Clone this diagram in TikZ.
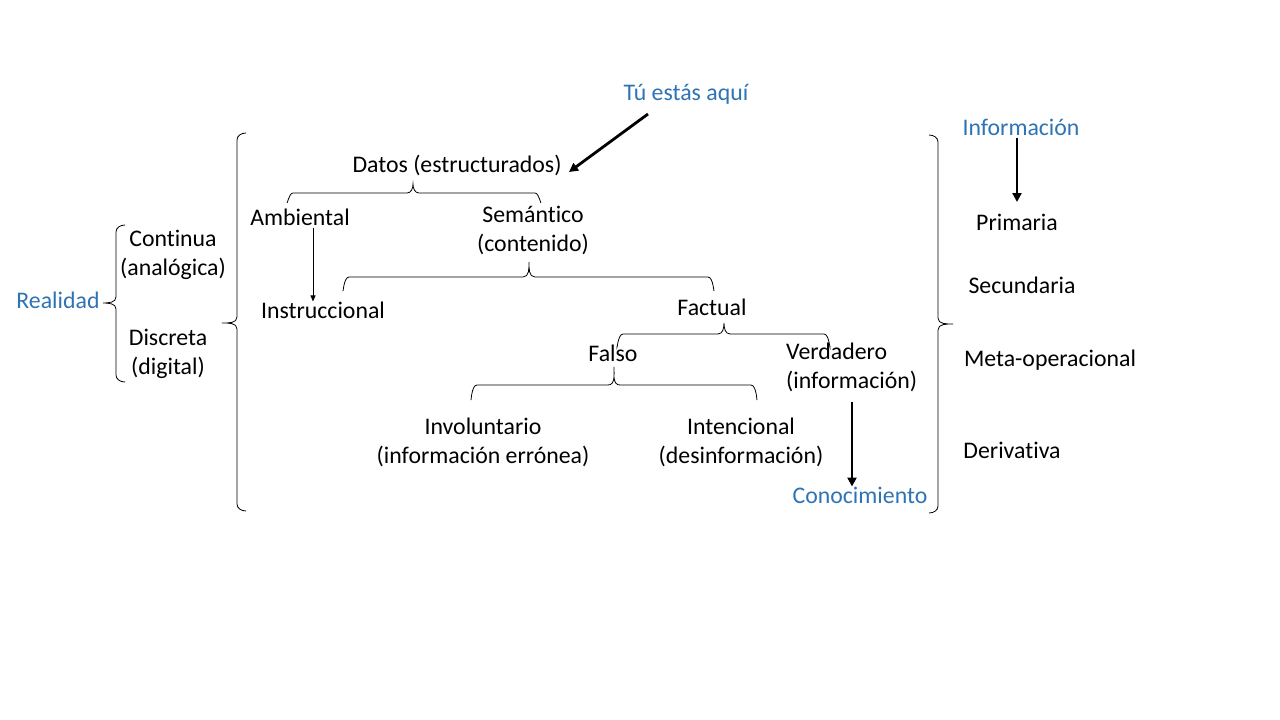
\documentclass[tikz,border=0pt]{standalone}
\usepackage{fontspec}
\setmainfont{Carlito}[Ligatures={NoCommon}]
\usetikzlibrary{arrows.meta}
\definecolor{tblue}{HTML}{2E74B5}
\begin{document}
\begin{tikzpicture}[x=1pt,y=-1pt,
  lbl/.style={font=\fontsize{23.8}{29}\selectfont,align=center,inner sep=0pt},
  blbl/.style={lbl,text=tblue},
  thinarr/.style={draw,line width=0.9pt,-{Triangle[length=6pt,width=5pt]}},
  thickarr/.style={draw,line width=2.8pt,-{Triangle[length=9pt,width=9pt]}},
  brc/.style={draw,line width=0.8pt}]
\useasboundingbox (0,0) rectangle (1280,720);
\fill[white] (0,0) rectangle (1280,720);

% texts
\node[blbl] (here) at (686,94) {Tú estás aquí};
\node[lbl] (datos) at (457,165) {Datos (estructurados)};
\node[lbl] (amb) at (300,217) {Ambiental};
\node[lbl] (sem) at (533,230) {Semántico\\ (contenido)};
\node[lbl] (instr) at (323,310) {Instruccional};
\node[lbl] (fact) at (712,307) {Factual};
\node[lbl] (falso) at (613,353) {Falso};
\node[lbl,align=left,anchor=west] (verd) at (786,367) {Verdadero\\(información)};
\node[lbl] (invol) at (483,442) {Involuntario\\(información errónea)};
\node[lbl] (inten) at (741,442) {Intencional\\(desinformación)};
\node[blbl] (conoc) at (860,495) {Conocimiento};
\node[blbl] (real) at (58,300) {Realidad};
\node[lbl] (cont) at (173,255) {Continua\\(analógica)};
\node[lbl] (disc) at (168,354) {Discreta\\ (digital)};
\node[blbl] (info) at (1021,127) {Información};
\node[lbl] (prim) at (1017,222) {Primaria};
\node[lbl] (secu) at (1022,285) {Secundaria};
\node[lbl] (meta) at (1050,360) {Meta-operacional};
\node[lbl] (deri) at (1012,450) {Derivativa};

% arrows
\coordinate (hereS) at (648,114);
\coordinate (datosE) at (569,172);
\draw[thickarr] (hereS) -- (datosE);
\draw[thinarr] (amb.south -| 313,0) ++(0,2) -- (instr.north -| 313,0);
\draw[thickarr] (852,402) -- (conoc.north -| 852,0);
\draw[thickarr] (info.south -| 1017,0) ++(0,3) -- (1017,202);

% horizontal braces (tip up)
\draw[brc] (287,202) to[out=-90,in=180] (293,193) -- (407,193) to[out=0,in=-90] (413,184)
  to[out=-90,in=180] (419,193) -- (535,193) to[out=0,in=-90] (541,202);
\draw[brc] (343,290) to[out=-90,in=180] (349,277) -- (523,277) to[out=0,in=-90] (529,262)
  to[out=-90,in=180] (535,277) -- (708,277) to[out=0,in=-90] (714,290);
\draw[brc] (617,346) to[out=-90,in=180] (623,334) -- (718,334) to[out=0,in=-90] (724,323)
  to[out=-90,in=180] (730,334) -- (824,334) to[out=0,in=-90] (830,346);
\draw[brc] (471,399) to[out=-90,in=180] (477,385) -- (608,385) to[out=0,in=-90] (614,367)
  to[out=-90,in=180] (620,385) -- (751,385) to[out=0,in=-90] (757,399);

% big left brace
\draw[brc] (246,133) to[out=180,in=90] (237,140) -- (237,317) to[out=-90,in=0] (222,323)
  to[out=0,in=90] (237,329) -- (237,504) to[out=-90,in=180] (246,511);
% small left brace
\draw[brc] (125,225) to[out=180,in=90] (116,232) -- (116,297) to[out=-90,in=0] (103,303)
  to[out=0,in=90] (116,309) -- (116,375) to[out=-90,in=180] (125,382);
% right brace
\draw[brc] (929,135) to[out=0,in=90] (938,142) -- (938,318) to[out=-90,in=180] (953,324)
  to[out=180,in=90] (938,330) -- (938,506) to[out=-90,in=0] (929,513);
\end{tikzpicture}
\end{document}
